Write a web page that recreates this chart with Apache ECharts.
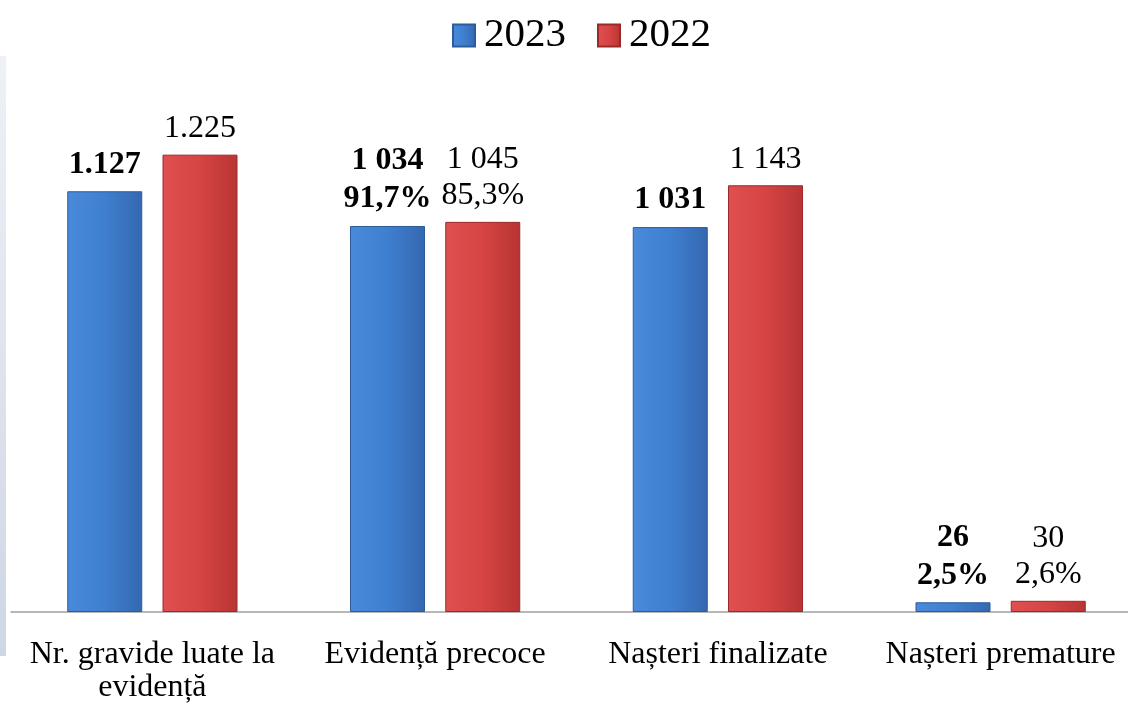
<!DOCTYPE html>
<html><head><meta charset="utf-8">
<script src="https://cdn.jsdelivr.net/npm/echarts@6/dist/echarts.min.js"></script>
<style>html,body{margin:0;padding:0;background:#fff}#c{width:1128px;height:704px}</style>
</head><body><div id="c"></div>
<script>
const categories = ['Nr. gravide luate la\nevidență', 'Evidență precoce', 'Nașteri finalizate', 'Nașteri premature'];
const values2023 = [1127, 1034, 1031, 26];
const values2022 = [1225, 1045, 1143, 30];
const labels2023 = ['1.127', '1 034\n91,7%', '1 031', '26\n2,5%'];
const labels2022 = ['1.225', '1 045\n85,3%', '1 143', '30\n2,6%'];

const font = '"Liberation Serif", "Times New Roman", serif';
const chart = echarts.init(document.getElementById('c'));
function grad(c1, c2, c3) {
  return new echarts.graphic.LinearGradient(0, 0, 1, 0, [
    {offset: 0, color: c1}, {offset: 0.5, color: c2}, {offset: 1, color: c3}
  ]);
}
chart.setOption({
  animation: false,
  textStyle: {fontFamily: font},
  graphic: [{
    type: 'rect', left: 0, top: 56, shape: {width: 6, height: 600},
    style: {fill: new echarts.graphic.LinearGradient(0, 0, 0, 1, [
      {offset: 0, color: '#eef1f6'}, {offset: 1, color: '#cfd6e4'}])}
  }],
  legend: {
    top: 10, left: 447, itemWidth: 22, itemHeight: 22, itemGap: 31,
    textStyle: {fontFamily: font, fontSize: 41, color: '#000', padding: [0, 0, 0, 4]},
    data: [
      {name: '2023', icon: 'rect'},
      {name: '2022', icon: 'rect'}
    ]
  },
  grid: {left: 11, width: 1131, top: 52, bottom: 92, containLabel: false, outerBoundsMode: 'none'},
  xAxis: {
    type: 'category', data: categories,
    axisLine: {lineStyle: {color: '#a0a0a0', width: 1.5}},
    axisTick: {show: false},
    axisLabel: {fontFamily: font, fontSize: 32, color: '#000', lineHeight: 33, margin: 26, interval: 0}
  },
  yAxis: {type: 'value', min: 0, max: 1500, show: false, splitLine: {show: false}},
  series: [{
    name: '2023', type: 'bar', barWidth: 75, barGap: '27%',
    data: values2023,
    itemStyle: {color: grad('#4a8ada', '#3f7fcf', '#3468b0'), borderColor: '#2d5c9a', borderWidth: 1},
    label: {show: true, position: 'top', distance: 8, fontFamily: font, fontSize: 32, fontWeight: 'bold',
      color: '#000', lineHeight: 38, formatter: p => labels2023[p.dataIndex]}
  }, {
    name: '2022', type: 'bar', barWidth: 75,
    data: values2022,
    itemStyle: {color: grad('#e05050', '#d64444', '#b83434'), borderColor: '#9a2a2a', borderWidth: 1},
    label: {show: true, position: 'top', distance: 8, fontFamily: font, fontSize: 32,
      color: '#000', lineHeight: 36, formatter: p => labels2022[p.dataIndex]}
  }]
});
</script></body></html>
